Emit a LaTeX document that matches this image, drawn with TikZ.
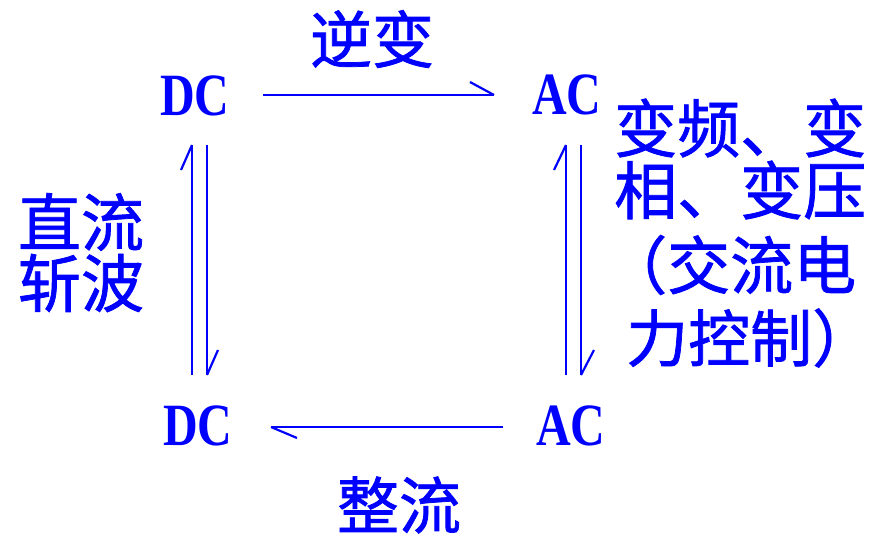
\documentclass[tikz,border=0pt]{standalone}
\usepackage{fontspec}
\setmainfont{Liberation Serif}
\newfontfamily\cjk{Noto Sans CJK SC}[RawFeature={embolden=1.2}]
\definecolor{dblue}{RGB}{0,0,255}
\tikzset{
  lat/.style={inner sep=0pt, text=dblue, font=\fontsize{60}{60}\selectfont\bfseries},
  han/.style={inner sep=0pt, text=dblue, font=\cjk\fontsize{62}{62}\selectfont},
  hanw/.style={inner sep=0pt, text=dblue, font=\cjk\fontsize{63}{63}\selectfont},
  conn/.style={draw=dblue, line width=2.7pt},
  barb/.style={draw=dblue, line width=2.2pt}
}
\begin{document}
\begin{tikzpicture}[x=1pt,y=-1pt]
\useasboundingbox (0,0) rectangle (876,536);
% nodes
\node[lat] (DC1) at (195,96) {\scalebox{0.8}[1]{DC}};
\node[lat] (AC1) at (567,95) {\scalebox{0.8}[1]{AC}};
\node[lat] (DC2) at (198,426) {\scalebox{0.8}[1]{DC}};
\node[lat] (AC2) at (571,426) {\scalebox{0.8}[1]{AC}};
\node[han] (ni) at (372,39) {逆变};
\node[han] (zheng) at (399,505) {整流};
\node[hanw] (l1) at (81,222) {直流};
\node[hanw] (l2) at (81,283) {斩波};
\node[hanw, anchor=west] (r1) at (614,128) {变频、变};
\node[hanw, anchor=west] (r2) at (614,190) {相、变压};
\node[hanw, anchor=west] (r3) at (604,265) {（交流电};
\node[han, anchor=west] (r4) at (626,338) {力控制）};
% connector end points
\coordinate (t1) at (263,95);
\coordinate (t2) at (494,95);
\coordinate (b1) at (503,427);
\coordinate (b2) at (271,427);
\coordinate (la1) at (192,375);
\coordinate (la2) at (192,145);
\coordinate (lb1) at (207,145);
\coordinate (lb2) at (207,375);
\coordinate (ra1) at (566,375);
\coordinate (ra2) at (566,145);
\coordinate (rb1) at (581,145);
\coordinate (rb2) at (581,375);
% connectors (harpoons)
\draw[conn] (t1) -- (t2);
\draw[barb] (t2) -- ++(-24,-13);
\draw[conn] (b1) -- (b2);
\draw[barb] (b2) -- ++(26,11);
\draw[conn] (la1) -- (la2);
\draw[barb] (la2) -- ++(-11,25);
\draw[conn] (lb1) -- (lb2);
\draw[barb] (lb2) -- ++(11,-25);
\draw[conn] (ra1) -- (ra2);
\draw[barb] (ra2) -- ++(-12,25);
\draw[conn] (rb1) -- (rb2);
\draw[barb] (rb2) -- ++(13,-25);
\end{tikzpicture}
\end{document}
